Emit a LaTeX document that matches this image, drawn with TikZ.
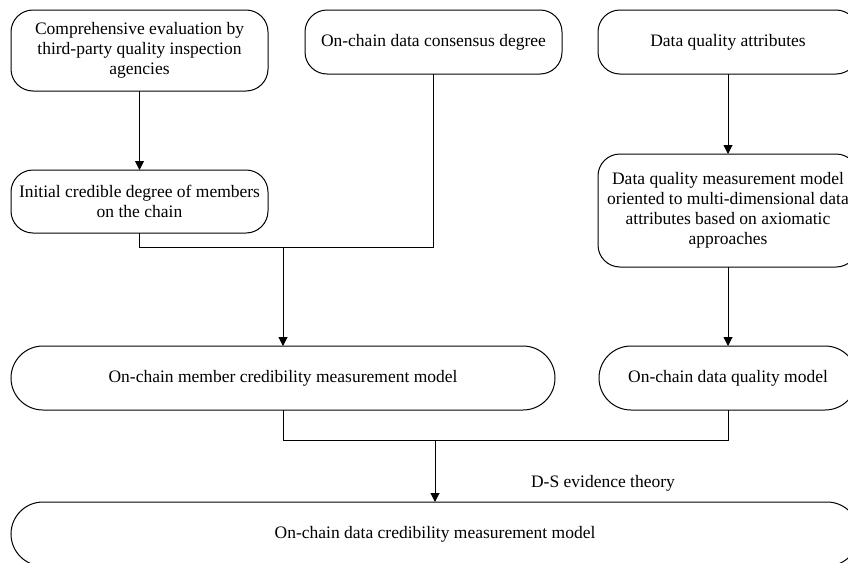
\documentclass[tikz,border=0pt]{standalone}
\usepackage{fontspec}
\setmainfont{Liberation Serif}
\usetikzlibrary{arrows.meta}
\begin{document}
\begin{tikzpicture}[x=1pt,y=-1pt,
  box/.style={draw, line width=1pt, rounded corners=22pt, align=center,
    inner sep=0pt, outer sep=0pt, font=\fontsize{17.5}{20}\selectfont},
  wide/.style={box, rounded corners=32pt},
  link/.style={line width=1pt},
  arr/.style={link, -{Triangle[length=9pt,width=9pt]}},
  lbl/.style={font=\fontsize{17.5}{20}\selectfont, inner sep=0pt}]
\useasboundingbox (0,0) rectangle (848,562);
\clip (0,0) rectangle (848,562);
\node[box, minimum width=257pt, minimum height=81pt] (A) at (139.5,50.5)
  {Comprehensive evaluation by\\third-party quality inspection\\agencies};
\node[box, minimum width=257pt, minimum height=64pt] (B) at (433.5,42)
  {On-chain data consensus degree};
\node[box, minimum width=260pt, minimum height=64pt] (C) at (728,42)
  {Data quality attributes};
\node[box, minimum width=257pt, minimum height=63pt] (D) at (139.5,201.5)
  {Initial credible degree of members\\on the chain};
\node[box, minimum width=260pt, minimum height=113pt] (E) at (728,210.5)
  {Data quality measurement model\\oriented to multi-dimensional data\\attributes based on axiomatic\\approaches};
\node[wide, minimum width=544pt, minimum height=64pt] (F) at (283,378)
  {On-chain member credibility measurement model};
\node[wide, minimum width=258pt, minimum height=64pt] (G) at (728,378)
  {On-chain data quality model};
\node[wide, minimum width=848pt, minimum height=64pt] (H) at (435,534)
  {On-chain data credibility measurement model};
\node[lbl] (L) at (603,483) {D-S evidence theory};
\coordinate (j1) at (283,247);
\coordinate (j2) at (435,440);
\draw[arr] (A) -- (D);
\draw[arr] (C) -- (E);
\draw[arr] (E) -- (G);
\draw[link] (D.south) -- (D.south |- j1) -- (B.south |- j1) -- (B.south);
\draw[arr] (j1) -- (F.north);
\draw[link] (F.south) -- (F.south |- j2) -- (G.south |- j2) -- (G.south);
\draw[arr] (j2) -- (H.north);
\end{tikzpicture}
\end{document}
